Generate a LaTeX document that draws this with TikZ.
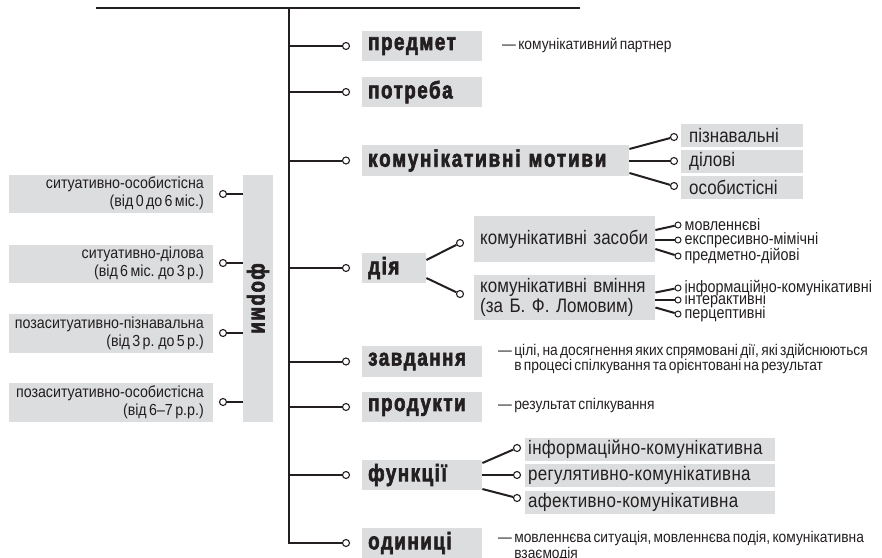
\documentclass[tikz,border=0pt]{standalone}
\usepackage{fontspec}
\setmainfont{Liberation Sans}
\newfontfamily\labfont{Liberation Sans}[FakeStretch=0.78,LetterSpace=6.5,BoldFeatures={FakeBold=2.5}]
\newfontfamily\labwidefont{Liberation Sans}[FakeStretch=0.78,LetterSpace=8,BoldFeatures={FakeBold=2.5}]
\newfontfamily\condfont{Liberation Sans}[FakeStretch=0.87]
\newfontfamily\trackfont{Liberation Sans}[FakeStretch=0.87,LetterSpace=1.5]
\newfontfamily\smallfont{Liberation Sans}[FakeStretch=0.87]
\newfontfamily\leftfont{Liberation Sans}[FakeStretch=0.89,WordSpace=2]
\newfontfamily\descfont{Liberation Sans}[FakeStretch=0.89,WordSpace=0.6]
\newcommand\mainlab{\labfont\bfseries\fontsize{24}{26}\selectfont}
\newcommand\mainwide{\labwidefont\bfseries\fontsize{24}{26}\selectfont}
\newcommand\sublab{\condfont\fontsize{19.5}{15.5}\selectfont}
\newcommand\tracklab{\trackfont\fontsize{19.5}{15.5}\selectfont}
\newcommand\smalllab{\smallfont\fontsize{16.5}{15.5}\selectfont}
\newcommand\leftlab{\leftfont\fontsize{16}{18}\selectfont}
\newcommand\desclab{\descfont\fontsize{15.5}{14}\selectfont}
\definecolor{boxgray}{RGB}{220,221,222}
\definecolor{ink}{RGB}{35,31,32}
\begin{document}
\begin{tikzpicture}[x=1pt,y=-1pt,
  every node/.style={text=ink},
  mbox/.style={fill=boxgray, anchor=west, inner xsep=6pt, inner ysep=0pt, minimum height=30pt, text width=#1, align=left, font=\mainlab},
  sbox/.style={fill=boxgray, anchor=west, inner xsep=8pt, inner ysep=0pt, minimum height=23pt, text width=106pt, align=left, font=\sublab},
  dbox/.style={fill=boxgray, anchor=west, inner xsep=6pt, inner ysep=0pt, text width=169pt, align=left, font=\sublab},
  fbox/.style={fill=boxgray, anchor=west, inner xsep=3pt, inner ysep=0pt, minimum height=23pt, text width=244pt, align=left, font=\tracklab},
  lbox/.style={fill=boxgray, anchor=west, inner sep=0pt, minimum width=204pt, minimum height=38pt},
  ltext/.style={anchor=east, inner sep=0pt, align=right, font=\leftlab},
  dot/.style={circle, draw=ink, fill=white, line width=1.1pt, inner sep=0pt, minimum size=7pt},
  sdot/.style={circle, draw=ink, fill=white, line width=1pt, inner sep=0pt, minimum size=6pt},
  br/.style={draw=ink, line width=2pt},
  thick line/.style={draw=ink, line width=2.6pt},
  itemtext/.style={anchor=west, inner sep=0pt, font=\smalllab},
  desc/.style={anchor=west, inner sep=0pt, align=left, font=\desclab}
]
\useasboundingbox (0,0) rectangle (882,557);

% top line and trunk
\coordinate (tl) at (96,8);
\coordinate (tr) at (580,8);
\coordinate (ttop) at (289,8);
\draw[thick line] (tl) -- (tr);

% main rows
\node[dot] (c1) at (346,46) {};
\node[dot] (c2) at (346,92) {};
\node[dot] (c3) at (346,160.5) {};
\node[dot] (c4) at (346,268) {};
\node[dot] (c5) at (346,361.5) {};
\node[dot] (c6) at (346,407) {};
\node[dot] (c7) at (346,475) {};
\node[dot] (c8) at (346,543) {};

\coordinate (tbot) at (289,543);
\draw[thick line, line join=miter] (ttop) -- (tbot) -- (c8);
\foreach \c in {c1,c2,c3,c4,c5,c6,c7}{
  \draw[br] (\c -| ttop) -- (\c);
}

\node[mbox=108pt] (predmet) at (362,46) {предмет};
\node[mbox=108pt] (potreba) at (362,92) {потреба};
\node[mbox=255pt, minimum height=31pt] (motyvy) at (362,160.5) {\mbox{\mainwide комунікативні мотиви}};
\node[mbox=52pt] (dia) at (362,268) {дія};
\node[mbox=108pt, minimum height=31pt] (zavd) at (362,361.5) {завдання};
\node[mbox=108pt] (prod) at (362,407) {продукти};
\node[mbox=108pt] (funk) at (362,475) {функції};
\node[mbox=108pt] (odyn) at (362,543) {одиниці};

% descriptions
\node[desc] (dpredmet) at (502,45) {— комунікативний партнер};
\node[desc] (dzavd) at (498,359) {— цілі, на досягнення яких спрямовані дії, які здійснюються\\\phantom{— }в процесі спілкування та орієнтовані на результат};
\node[desc] (dprod) at (498,405) {— результат спілкування};
\node[desc] (dodyn) at (498,546.5) {— мовленнєва ситуація, мовленнєва подія, комунікативна\\\phantom{— }взаємодія};

% motyvy subs
\node[sbox] (m1) at (681,135.5) {пізнавальні};
\node[sbox] (m2) at (681,161.5) {ділові};
\node[sbox] (m3) at (681,187.5) {особистісні};
\node[dot] (cm1) at (674,137) {};
\node[dot] (cm2) at (674,161) {};
\node[dot] (cm3) at (674,186) {};
\draw[br] ([yshift=11.5pt]motyvy.east) -- (cm1);
\draw[br] (motyvy.east |- cm2) -- (cm2);
\draw[br] ([yshift=-12.5pt]motyvy.east) -- (cm3);

% dia subs
\node[dot] (cd1) at (460,243) {};
\node[dot] (cd2) at (460,294) {};
\draw[br] ([yshift=8pt]dia.east) -- (cd1);
\draw[br] ([yshift=-10pt]dia.east) -- (cd2);
\node[dbox, minimum height=46pt] (zas) at (474,239) {комунікативні засоби};
\node[dbox, minimum height=45pt] (vm) at (474,297.5) {комунікативні вміння\\(за Б. Ф. Ломовим)};

\node[sdot] (z1) at (678,225) {};
\node[sdot] (z2) at (678,240) {};
\node[sdot] (z3) at (678,256) {};
\draw[br] ([yshift=9pt]zas.east) -- (z1);
\draw[br] (zas.east |- z2) -- (z2);
\draw[br] ([yshift=-10pt]zas.east) -- (z3);
\node[itemtext] (tz1) at (684.5,225) {мовленнєві};
\node[itemtext] (tz2) at (684.5,240) {експресивно-мімічні};
\node[itemtext] (tz3) at (684.5,256) {предметно-дійові};

\node[sdot] (v1) at (678,288) {};
\node[sdot] (v2) at (678,300) {};
\node[sdot] (v3) at (678,314) {};
\draw[br] ([yshift=5pt]vm.east) -- (v1);
\draw[br] (vm.east |- v2) -- (v2);
\draw[br] ([yshift=-10pt]vm.east) -- (v3);
\node[itemtext] (tv1) at (684.5,288) {інформаційно-комунікативні};
\node[itemtext] (tv2) at (684.5,300) {інтерактивні};
\node[itemtext] (tv3) at (684.5,314) {перцептивні};

% funktsii subs
\node[fbox] (f1) at (525,449.5) {інформаційно-комунікативна};
\node[fbox] (f2) at (525,475.5) {регулятивно-комунікативна};
\node[fbox] (f3) at (525,502) {афективно-комунікативна};
\node[dot] (cf1) at (517,448) {};
\node[dot] (cf2) at (517,475) {};
\node[dot] (cf3) at (517,498) {};
\draw[br] ([yshift=12pt]funk.east) -- (cf1);
\draw[br] (funk.east |- cf2) -- (cf2);
\draw[br] ([yshift=-14pt]funk.east) -- (cf3);

% forms
\node[fill=boxgray, minimum width=30pt, minimum height=247pt, inner sep=0pt] (forms) at (258,298.5) {};
\node[rotate=-90, inner sep=0pt, font=\mainlab] (formslab) at (forms.center) {форми};

\node[lbox] (l1) at (9,193.5) {};
\node[lbox] (l2) at (9,263.5) {};
\node[lbox, minimum height=39pt] (l3) at (9,333.5) {};
\node[lbox, minimum height=39pt] (l4) at (9,402.5) {};
\node[ltext] (l1t) at (204,193.5) {ситуативно-особистісна\\(від 0 до 6 міс.)};
\node[ltext] (l2t) at (204,263.5) {ситуативно-ділова\\(від 6 міс. до 3 р.)};
\node[ltext] (l3t) at (204,333.5) {позаситуативно-пізнавальна\\(від 3 р. до 5 р.)};
\node[ltext] (l4t) at (204,402.5) {позаситуативно-особистісна\\(від 6–7 р.р.)};
\node[dot] (cl1) at (223,194) {};
\node[dot] (cl2) at (223,263) {};
\node[dot] (cl3) at (223,333) {};
\node[dot] (cl4) at (223,402) {};
\foreach \c in {cl1,cl2,cl3,cl4}{
  \draw[br] (\c) -- (\c -| forms.west);
}
\end{tikzpicture}
\end{document}
